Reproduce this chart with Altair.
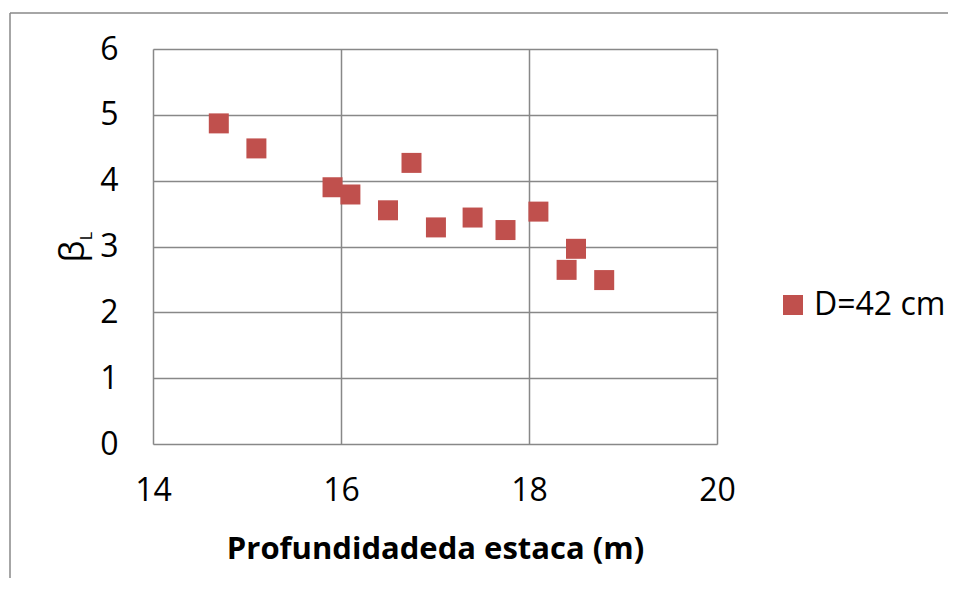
import altair as alt
import pandas as pd

# Data
depth = [14.70, 15.10, 15.91, 16.10, 16.50, 16.75, 17.01, 17.40, 17.75, 18.10, 18.40, 18.50, 18.80]
beta = [4.87, 4.49, 3.90, 3.79, 3.55, 4.27, 3.29, 3.44, 3.25, 3.53, 2.645, 2.965, 2.49]
series = ["D=42 cm"] * len(depth)
x_ticks = [14, 16, 18, 20]
y_ticks = [0, 1, 2, 3, 4, 5, 6]

df = pd.DataFrame({"depth": depth, "beta": beta, "series": series})
one = pd.DataFrame({"a": [0]})

FONT = "Open Sans"
GRID = "#888888"
RED = "#C0504D"

points = alt.Chart(df).mark_square(size=400, opacity=1, strokeWidth=0).encode(
    x=alt.X(
        "depth:Q",
        scale=alt.Scale(domain=[14, 20], nice=False, zero=False),
        axis=alt.Axis(
            values=x_ticks,
            ticks=False,
            domain=False,
            grid=True,
            gridColor=GRID,
            gridWidth=1.5,
            gridOpacity=1,
            labelFlush=False,
            labelFontSize=32,
            labelFont=FONT,
            labelColor="black",
            labelPadding=31,
            title="Profundidadeda estaca (m)",
            titleFont=FONT,
            titleFontSize=31,
            titleFontWeight="bold",
            titleColor="black",
            titleBaseline="alphabetic",
            titleY=114,
        ),
    ),
    y=alt.Y(
        "beta:Q",
        scale=alt.Scale(domain=[0, 6], nice=False),
        axis=alt.Axis(
            values=y_ticks,
            ticks=False,
            domain=False,
            grid=True,
            gridColor=GRID,
            gridWidth=1.5,
            gridOpacity=1,
            labelFlush=False,
            labelFontSize=32,
            labelFont=FONT,
            labelColor="black",
            labelPadding=35,
            title="β",
            titleFont=FONT,
            titleFontSize=35,
            titleFontWeight="normal",
            titleColor="black",
            titleAngle=270,
            titleAlign="center",
            titleBaseline="alphabetic",
            titleX=-70,
            titleY=202,
        ),
    ),
    color=alt.Color(
        "series:N",
        scale=alt.Scale(domain=["D=42 cm"], range=[RED]),
        legend=alt.Legend(
            title=None,
            orient="none",
            legendX=624,
            legendY=240,
            symbolType="square",
            symbolSize=400,
            symbolStrokeWidth=0,
            symbolOpacity=1,
            labelFontSize=32,
            labelFont=FONT,
            labelColor="black",
            labelOffset=5,
        ),
    ),
)

sub_l = alt.Chart(one).mark_text(
    text="L", angle=270, fontSize=16, font=FONT, align="center",
    baseline="alphabetic", color="black"
).encode(x=alt.value(-61), y=alt.value(187))

border_top = alt.Chart(one).mark_rule(color=GRID, strokeWidth=1.5).encode(
    x=alt.value(-143), x2=alt.value(900), y=alt.value(-36)
)
border_left = alt.Chart(one).mark_rule(color=GRID, strokeWidth=1.5).encode(
    x=alt.value(-143), y=alt.value(-36), y2=alt.value(600)
)

chart = alt.layer(border_top, border_left, points, sub_l).properties(
    width=564,
    height=395,
    autosize=alt.AutoSizeParams(type="none"),
    padding={"left": 145, "top": 41, "right": 231, "bottom": 134},
).configure_view(
    stroke=GRID, strokeWidth=1.5
).configure(background="white")

chart.save("out.html", embed_options={"renderer": "svg", "actions": False})
